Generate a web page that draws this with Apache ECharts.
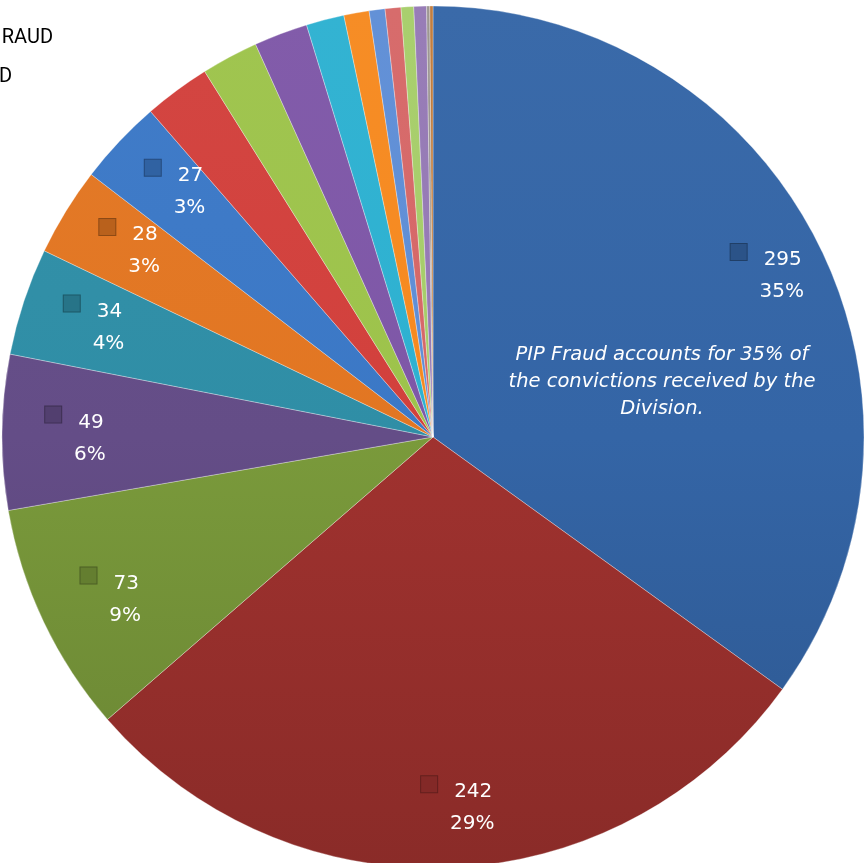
<!DOCTYPE html>
<html><head><meta charset="utf-8">
<script src="https://cdn.jsdelivr.net/npm/echarts@6.0.0/dist/echarts.min.js"></script>
<style>html,body{margin:0;padding:0;background:#fff;overflow:hidden}#c{width:865px;height:863px}</style>
</head><body><div id="c"></div>
<script>
const categories = ['PIP FRAUD','Category 2','Category 3','Category 4','Category 5','Category 6','Category 7','Category 8','Category 9','Category 10','Category 11','Category 12','Category 13','Category 14','Category 15','Category 16','Category 17','Category 18'];
const values = [295, 242, 73, 49, 34, 28, 27, 21, 18, 17, 12, 8, 5, 5, 4, 4, 1, 1];
const colors = ['#3465A6','#A0322F','#7A9A3B','#644D87','#2F8EA6','#E27622','#3B78C6','#D2403C','#9DC34B','#7E57A7','#2DB1D1','#F6891F','#5E8ED6','#D66767','#A6CD69','#9579B5','#9A9490','#C07A3A'];
const labelledCount = 7;
const legendTexts = ['RAUD', 'D'];
const noteText = 'PIP Fraud accounts for 35% of\nthe convictions received by the\nDivision.';

const CX = 433, CY = 437, R = 431;

function shade(hex, f) {
  const n = parseInt(hex.slice(1), 16);
  const ch = [(n >> 16) & 255, (n >> 8) & 255, n & 255].map(c => {
    const v = f >= 1 ? c + (255 - c) * (f - 1) : c * f;
    return Math.max(0, Math.min(255, Math.round(v)));
  });
  return 'rgb(' + ch.join(',') + ')';
}

const chart = echarts.init(document.getElementById('c'));

const data = values.map((v, i) => ({
  name: categories[i],
  value: v,
  itemStyle: {
    color: {
      type: 'linear', global: true, x: 0, y: CY - R, x2: 0, y2: CY + R,
      colorStops: [
        { offset: 0, color: shade(colors[i], 1.03) },
        { offset: 0.5, color: colors[i] },
        { offset: 1, color: shade(colors[i], 0.86) }
      ]
    }
  },
  label: {
    show: i < labelledCount,
    rich: {
      sq: { width: 16, height: 16, backgroundColor: shade(colors[i], 0.82), borderColor: shade(colors[i], 0.62), borderWidth: 1, verticalAlign: 'top' },
      g: { width: 17 },
      v: { color: '#fff', fontSize: 20, fontFamily: 'DejaVu Sans', lineHeight: 32 },
      sp: { width: 31 },
      p: { color: '#fff', fontSize: 20, fontFamily: 'DejaVu Sans', lineHeight: 32 }
    }
  }
}));

chart.setOption({
  animation: false,
  series: [{
    type: 'pie',
    center: [CX, CY],
    radius: [0, R],
    startAngle: 90,
    clockwise: true,
    data: data,
    itemStyle: { borderColor: 'rgba(255,255,255,0.3)', borderWidth: 1 },
    label: {
      show: true,
      position: 'inside',
      formatter: p => '{sq|}{g|}{v|' + p.value + '}\n{sp|}{p|' + Math.round(p.percent) + '%}'
    },
    labelLine: { show: false },
    labelLayout: function (params) {
      const r = params.labelRect;
      const cx = r.x + r.width / 2, cy = r.y + r.height / 2;
      return { dx: (cx - CX) * 0.675 + 7, dy: (cy - CY) * 0.675 + 8 };
    },
    emphasis: { disabled: true }
  }],
  graphic: [
    { type: 'text', x: 53, y: 38, style: { text: legendTexts[0], font: '20px Roboto', fill: '#000', textAlign: 'right', textVerticalAlign: 'middle' } },
    { type: 'text', x: 12, y: 77, style: { text: legendTexts[1], font: '20px Roboto', fill: '#000', textAlign: 'right', textVerticalAlign: 'middle' } },
    { type: 'text', x: 662, y: 341, z: 100, style: { text: noteText, font: 'italic 19.5px "DejaVu Sans"', fill: '#fff', textAlign: 'center', textVerticalAlign: 'top', lineHeight: 27 } }
  ]
});
</script>
</body></html>
